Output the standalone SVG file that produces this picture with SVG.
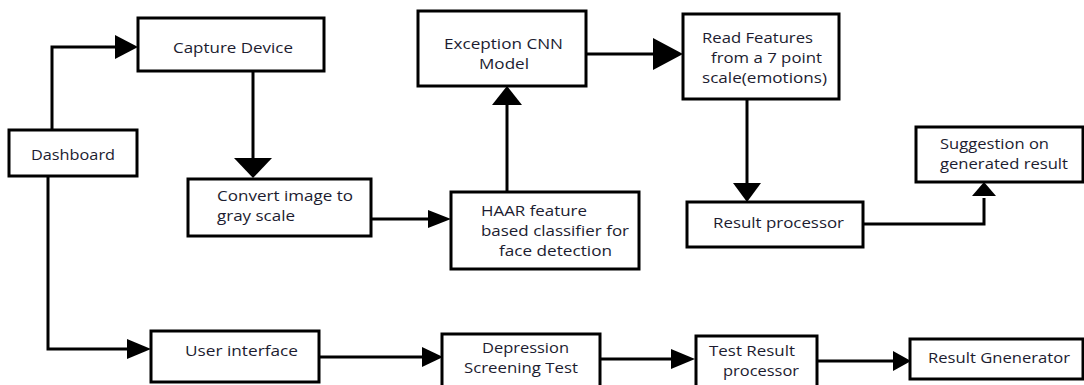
<svg xmlns="http://www.w3.org/2000/svg" width="1084" height="385" viewBox="0 0 1084 385">
<style>
.box{fill:#fff;stroke:#000;stroke-width:3}
.ln{fill:none;stroke:#000;stroke-width:3}
.head{fill:#000}
text{font-family:"Open Sans","Liberation Sans",sans-serif;font-size:15px;fill:#1c1c30}
</style>
<rect width="1084" height="385" fill="#fff"/>
<g id="connectors">
<polyline class="ln" points="52,130 52,47 118,47"/>
<polygon class="head" points="115,35 138,47 115,59"/>
<line class="ln" x1="253" y1="71" x2="253" y2="160"/>
<polygon class="head" points="234,158 272,158 253,178"/>
<line class="ln" x1="371" y1="219" x2="430" y2="219"/>
<polygon class="head" points="428,210 451,219 428,228"/>
<line class="ln" x1="507" y1="192" x2="507" y2="103"/>
<polygon class="head" points="492,105 522,105 507,86"/>
<line class="ln" x1="586" y1="54" x2="655" y2="54"/>
<polygon class="head" points="653,38 683,54 653,70"/>
<line class="ln" x1="747" y1="99" x2="747" y2="185"/>
<polygon class="head" points="733,183 761,183 747,202"/>
<polyline class="ln" points="863,224 984,224 984,198"/>
<polygon class="head" points="972,196 996,196 984,182"/>
<polyline class="ln" points="48,176 48,349 129,349"/>
<polygon class="head" points="127,339 151,349 127,359"/>
<line class="ln" x1="319" y1="357" x2="424" y2="357"/>
<polygon class="head" points="422,347 443,357 422,367"/>
<line class="ln" x1="600" y1="359" x2="673" y2="359"/>
<polygon class="head" points="671,349 695,359 671,369"/>
<line class="ln" x1="817" y1="361" x2="895" y2="361"/>
<polygon class="head" points="893,351 911,361 893,371"/>
</g>
<g id="dashboard">
<rect class="box" x="9" y="130" width="128" height="46"/>
<text x="31" y="160" textLength="84" lengthAdjust="spacingAndGlyphs">Dashboard</text>
</g>
<g id="capture-device">
<rect class="box" x="138" y="18" width="186" height="53"/>
<text x="173" y="53" textLength="120" lengthAdjust="spacingAndGlyphs">Capture Device</text>
</g>
<g id="convert-gray">
<rect class="box" x="188" y="179" width="183" height="57"/>
<text x="217" y="201" textLength="136" lengthAdjust="spacingAndGlyphs">Convert image to</text>
<text x="217" y="221" textLength="78" lengthAdjust="spacingAndGlyphs">gray scale</text>
</g>
<g id="haar">
<rect class="box" x="451" y="192" width="188" height="77"/>
<text x="481" y="216" textLength="106" lengthAdjust="spacingAndGlyphs">HAAR feature</text>
<text x="481" y="236" textLength="148" lengthAdjust="spacingAndGlyphs">based classifier for</text>
<text x="499" y="256" textLength="113" lengthAdjust="spacingAndGlyphs">face detection</text>
</g>
<g id="exception-cnn">
<rect class="box" x="418" y="11" width="168" height="75"/>
<text x="444" y="49" textLength="119" lengthAdjust="spacingAndGlyphs">Exception CNN</text>
<text x="479" y="69" textLength="50" lengthAdjust="spacingAndGlyphs">Model</text>
</g>
<g id="read-features">
<rect class="box" x="683" y="14" width="156" height="85"/>
<text x="702" y="43" textLength="111" lengthAdjust="spacingAndGlyphs">Read Features</text>
<text x="711" y="63" textLength="111" lengthAdjust="spacingAndGlyphs">from a 7 point</text>
<text x="702" y="83" textLength="125" lengthAdjust="spacingAndGlyphs">scale(emotions)</text>
</g>
<g id="result-processor">
<rect class="box" x="687" y="202" width="176" height="45"/>
<text x="713" y="228" textLength="131" lengthAdjust="spacingAndGlyphs">Result processor</text>
</g>
<g id="suggestion">
<rect class="box" x="916" y="127" width="167" height="55"/>
<text x="940" y="149" textLength="109" lengthAdjust="spacingAndGlyphs">Suggestion on</text>
<text x="940" y="169" textLength="128" lengthAdjust="spacingAndGlyphs">generated result</text>
</g>
<g id="user-interface">
<rect class="box" x="151" y="331" width="168" height="51"/>
<text x="185" y="356" textLength="113" lengthAdjust="spacingAndGlyphs">User interface</text>
</g>
<g id="depression-test">
<rect class="box" x="442" y="334" width="158" height="60"/>
<text x="482" y="353" textLength="87" lengthAdjust="spacingAndGlyphs">Depression</text>
<text x="464" y="373" textLength="114" lengthAdjust="spacingAndGlyphs">Screening Test</text>
</g>
<g id="test-result-processor">
<rect class="box" x="696" y="336" width="121" height="60"/>
<text x="709" y="356" textLength="86" lengthAdjust="spacingAndGlyphs">Test Result</text>
<text x="723" y="376" textLength="76" lengthAdjust="spacingAndGlyphs">processor</text>
</g>
<g id="result-generator">
<rect class="box" x="910" y="339" width="173" height="40"/>
<text x="928" y="363" textLength="142" lengthAdjust="spacingAndGlyphs">Result Gnenerator</text>
</g>
</svg>
